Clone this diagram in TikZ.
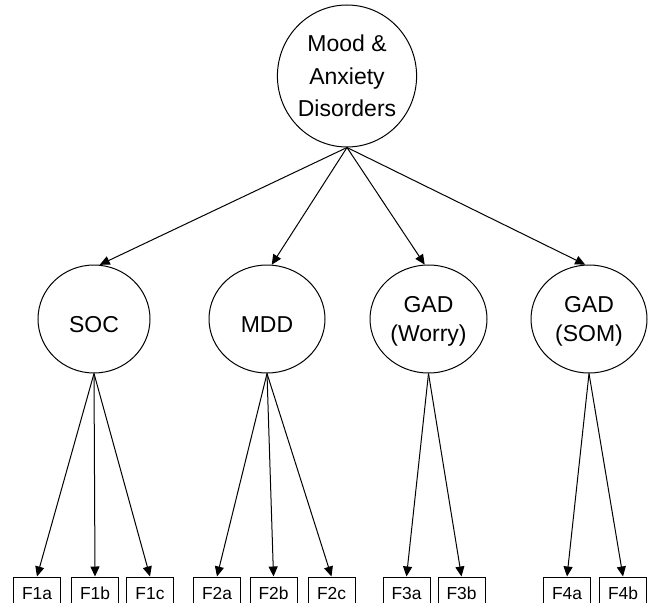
\documentclass[tikz,border=0pt]{standalone}
\usepackage{fontspec}
\setmainfont{Liberation Sans}
\usetikzlibrary{shapes.geometric,arrows.meta}
\tikzset{
  latent/.style={draw, ellipse, line width=1pt, inner sep=0pt, minimum height=108pt},
  lbl/.style={align=center, inner sep=0pt, font=\fontsize{23}{29}\selectfont},
  obs/.style={draw, rectangle, line width=1pt, inner sep=0pt, minimum width=47pt, minimum height=33pt, font=\fontsize{17.4}{20}\selectfont},
  arr/.style={line width=1pt, -{Triangle[length=10pt,width=9pt]}}
}
\begin{document}
\begin{tikzpicture}[x=1pt,y=-1pt]
\useasboundingbox (0,0) rectangle (650,602);
\clip (0,0) rectangle (650,602);
% top latent
\node[draw, ellipse, line width=1pt, inner sep=0pt, minimum width=139pt, minimum height=142pt,
      align=center, font=\fontsize{23}{32.5}\selectfont] (top) at (347,76) {Mood \&\\Anxiety\\Disorders};
% second-level latents
\node[latent, minimum width=112pt] (soc) at (94,319) {};
\node[latent, minimum width=116pt] (mdd) at (267,319) {};
\node[latent, minimum width=117pt] (wor) at (428.5,319) {};
\node[latent, minimum width=116pt] (som) at (589,319) {};
\node[lbl, yshift=-5.75pt] (socL) at (soc) {SOC};
\node[lbl, yshift=-5.75pt] (mddL) at (mdd) {MDD};
\node[lbl, yshift=-2.7pt] (worL) at (wor) {GAD\\(Worry)};
\node[lbl, yshift=-2.7pt] (somL) at (som) {GAD\\(SOM)};
% observed
\node[obs] (f1a) at (37,593.5) {F1a};
\node[obs] (f1b) at (95,593.5) {F1b};
\node[obs] (f1c) at (150,593.5) {F1c};
\node[obs] (f2a) at (217,593.5) {F2a};
\node[obs] (f2b) at (273.5,593.5) {F2b};
\node[obs] (f2c) at (331.5,593.5) {F2c};
\node[obs] (f3a) at (406.5,593.5) {F3a};
\node[obs] (f3b) at (461.5,593.5) {F3b};
\node[obs] (f4a) at (567,593.5) {F4a};
\node[obs] (f4b) at (623,593.5) {F4b};
% arrows
\draw[arr] (top.south) -- (soc.84);
\draw[arr] (top.south) -- (mdd.85);
\draw[arr] (top.south) -- (wor.94);
\draw[arr] (top.south) -- (som.94);
\draw[arr] (soc.south) -- (f1a.north);
\draw[arr] (soc.south) -- (f1b.north);
\draw[arr] (soc.south) -- (f1c.north);
\draw[arr] (mdd.south) -- (f2a.north);
\draw[arr] (mdd.south) -- (f2b.north);
\draw[arr] (mdd.south) -- (f2c.north);
\draw[arr] (wor.south) -- (f3a.north);
\draw[arr] (wor.south) -- (f3b.north);
\draw[arr] (som.south) -- (f4a.north);
\draw[arr] (som.south) -- (f4b.north);
\end{tikzpicture}
\end{document}
